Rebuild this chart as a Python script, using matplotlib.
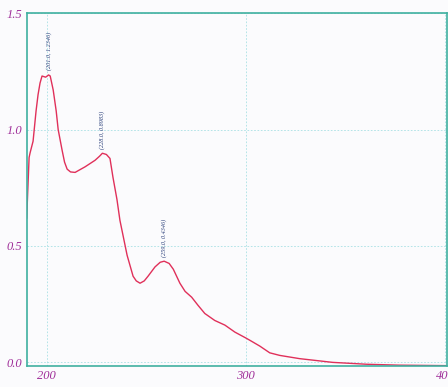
import matplotlib.pyplot as plt

# 吸收光谱数据
wavelength = [190.0, 191.2, 191.7, 193.2, 194.7, 195.7, 196.7, 197.7, 199.5, 201.0,
              201.8, 203.3, 204.8, 205.8, 207.8, 209.0, 210.3, 212.0, 214.3, 219.3,
              224.3, 226.5, 228.0, 230.0, 231.8, 233.3, 235.3, 236.8, 240.4, 243.4,
              245.0, 246.9, 249.0, 250.9, 254.4, 257.0, 259.0, 261.5, 263.6, 266.9,
              269.5, 272.8, 276.0, 279.4, 284.4, 289.5, 294.5, 299.5, 302.0, 307.0,
              312.0, 317.0, 327.0, 343.6, 360.5, 377.0, 400.6]
absorb = [0.62, 0.88, 0.90, 0.95, 1.08, 1.15, 1.20, 1.23, 1.225, 1.2346,
          1.23, 1.17, 1.08, 1.00, 0.91, 0.86, 0.83, 0.818, 0.816, 0.84,
          0.868, 0.885, 0.8983, 0.893, 0.876, 0.795, 0.70, 0.61, 0.46, 0.37,
          0.35, 0.34, 0.35, 0.37, 0.41, 0.43, 0.4346, 0.425, 0.40, 0.34,
          0.305, 0.28, 0.245, 0.21, 0.18, 0.16, 0.13, 0.107, 0.095, 0.07,
          0.041, 0.03, 0.016, 0.0, -0.008, -0.012, -0.014]
peak_x = [201.0, 228.0, 259.0]
peak_y = [1.2346, 0.8983, 0.4346]
xticks = [200, 300, 400]
yticks = [0.0, 0.5, 1.0, 1.5]

fig = plt.figure(figsize=(4.48, 3.87), dpi=100)
fig.patch.set_facecolor('#fbfbfd')
ax = fig.add_axes([0.0596, 0.054, 0.9374, 0.912])
ax.set_facecolor('#fbfbfd')

ax.plot(wavelength, absorb, color='#e0305a', lw=1.0)

for px, py in zip(peak_x, peak_y):
    ax.text(px, py + 0.02, '(%.1f, %.4f)' % (px, py), rotation=90,
            ha='center', va='bottom', fontsize=4.4, color='#2a3f7a',
            family='Liberation Serif', style='italic')

ax.set_xlim(190, 400.8)
ax.set_ylim(-0.016, 1.5)
ax.set_xticks(xticks)
ax.set_yticks(yticks)
ax.set_xticklabels([str(t) for t in xticks])
ax.set_yticklabels(['%.1f' % t for t in yticks])
ax.tick_params(length=0, pad=3, labelsize=9, labelcolor='#a0309a')
for lab in ax.get_xticklabels() + ax.get_yticklabels():
    lab.set_family('Liberation Serif')
    lab.set_style('italic')

ax.grid(True, color='#a8e0e4', lw=0.6, ls=(0, (2, 2)))
for s in ax.spines.values():
    s.set_color('#3fb0a0')
    s.set_linewidth(1.2)

fig.savefig('out.png', dpi=100, facecolor=fig.get_facecolor())
